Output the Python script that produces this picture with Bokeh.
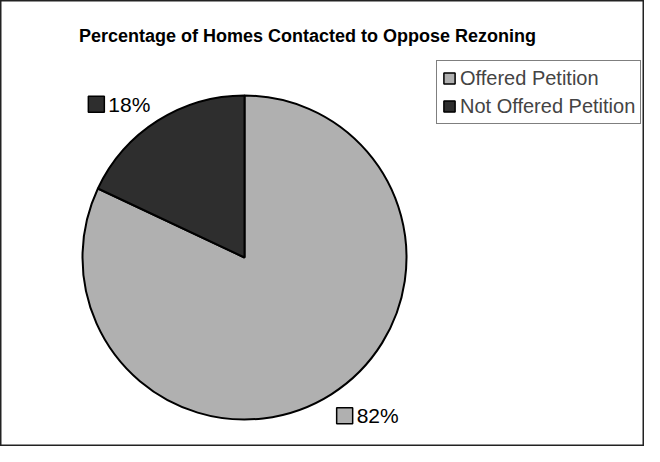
import numpy as np
from bokeh.plotting import figure
from bokeh.models import ColumnDataSource, Range1d, Legend, LegendItem, Label
from bokeh.core.properties import value
from bokeh.embed import file_html
from bokeh.resources import INLINE

# ---- data ----
categories = ["Offered Petition", "Not Offered Petition"]
percents = [82, 18]
labels = ["82%", "18%"]
colors = ["#b0b0b0", "#2e2e2e"]
title_text = "Percentage of Homes Contacted to Oppose Rezoning"

# ---- layout (screen px, measured from figure top-left) ----
W, H = 644, 446
def fy(top_px):
    return H - top_px

cx, cy, r = 244, fy(257), 162
FONT = "Liberation Sans"
lab_fs = 21
sq = 16
gap = 4

p = figure(width=W, height=H, output_backend="svg", toolbar_location=None,
           x_range=Range1d(0, W), y_range=Range1d(0, H),
           min_border=0, background_fill_color="white", border_fill_color="white")
p.axis.visible = False
p.grid.visible = False
p.outline_line_color = "#222222"
p.outline_line_width = 2

vals = np.array(percents, dtype=float)
frac = vals / vals.sum()
cum = np.concatenate([[0], np.cumsum(frac)])
start = np.pi / 2 - 2 * np.pi * cum[:-1]
end = np.pi / 2 - 2 * np.pi * cum[1:]
mid = (start + end) / 2

src = ColumnDataSource(dict(start=start, end=end, color=colors, name=categories))
p.wedge(x=cx, y=cy, radius=r, start_angle="start", end_angle="end", direction="clock",
        fill_color="color", line_color="black", line_width=2, source=src)

# data labels placed outside the slices, near the slice mid-angle
ar = r + 10
ax = cx + ar * np.cos(mid)
ay = cy + ar * np.sin(mid)
tw = 2.0 * lab_fs
bw = sq + gap + tw
box_left = np.where(np.cos(mid) < 0, ax - bw - 2, ax)
box_bottom = np.where(np.sin(mid) > 0, ay, ay - 5 - sq)

lsrc = ColumnDataSource(dict(
    left=box_left, right=box_left + sq, bottom=box_bottom, top=box_bottom + sq,
    tx=box_left + sq + gap, ty=box_bottom + sq / 2, text=labels, color=colors))
sqr = p.quad(left="left", right="right", bottom="bottom", top="top",
             fill_color="color", line_color="black", line_width=1.5, source=lsrc)
p.text(x="tx", y="ty", text="text", source=lsrc, text_font=value(FONT),
       text_font_size=f"{lab_fs}px", text_color="black",
       text_align="left", text_baseline="middle")

title = Label(x=307, y=fy(35), text=title_text, text_font=FONT, text_font_size="18px",
              text_font_style="bold", text_align="center", text_baseline="middle",
              text_color="black")
p.add_layout(title)

legend = Legend(items=[LegendItem(label=categories[i], renderers=[sqr], index=i)
                       for i in range(len(categories))],
                location=(436, fy(124)), orientation="vertical",
                label_text_font=FONT, label_text_font_size="20px",
                glyph_width=14, glyph_height=14, label_standoff=4,
                label_height=24, spacing=4, padding=5, margin=0,
                border_line_color="black", border_line_width=1.5,
                background_fill_color="white", background_fill_alpha=1)
p.add_layout(legend)

open("out.html", "w").write(file_html(p, INLINE))
